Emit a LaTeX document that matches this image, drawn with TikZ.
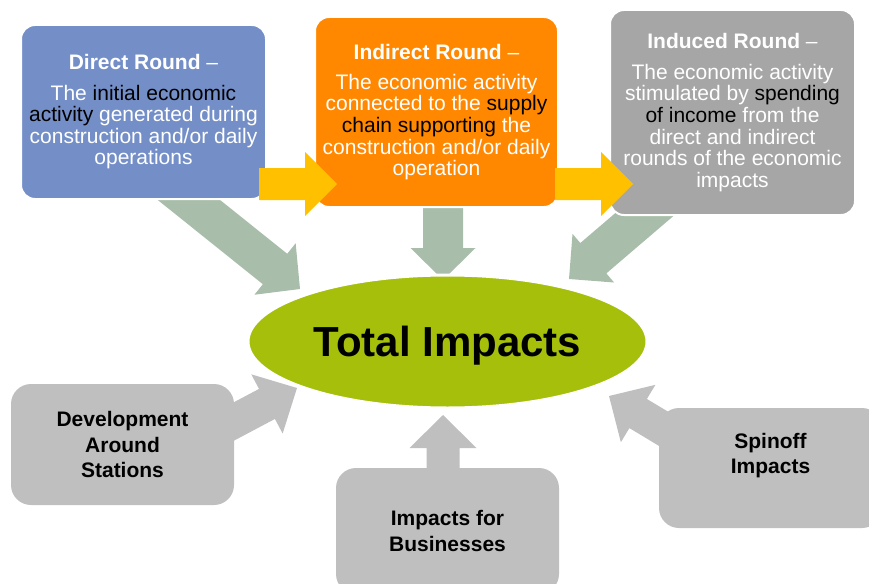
\documentclass[tikz,border=0pt]{standalone}
\usepackage{fontspec}
\setmainfont{Liberation Sans}
\usetikzlibrary{calc,shapes.geometric}
\definecolor{dirblue}{RGB}{116,143,199}
\definecolor{indorange}{RGB}{255,136,0}
\definecolor{indgray}{RGB}{166,166,166}
\definecolor{lowgray}{RGB}{191,191,191}
\definecolor{sage}{RGB}{169,190,170}
\definecolor{amber}{RGB}{255,192,0}
\definecolor{lime}{RGB}{165,191,10}
% block arrow: #1 style, #2 tail, #3 tip, #4 half shaft, #5 half head, #6 head length
\newcommand\blockarr[6]{%
  \coordinate (hb) at ($(#3)!#6!(#2)$);
  \fill[#1] ($(#2)!#4!90:(#3)$) -- ($(hb)!#4!90:(#3)$) -- ($(hb)!#5!90:(#3)$) -- (#3)
    -- ($(hb)!#5!-90:(#3)$) -- ($(hb)!#4!-90:(#3)$) -- ($(#2)!#4!-90:(#3)$) -- cycle;}
\begin{document}
\begin{tikzpicture}[x=1pt,y=-1pt,
  topbox/.style={rectangle, rounded corners=14pt, draw=white, line width=2pt,
    align=center, text=white, inner sep=0pt, font=\fontsize{21}{21.6}\selectfont},
  lowbox/.style={rectangle, rounded corners=20pt, fill=lowgray, inner sep=0pt,
    align=center, font=\fontsize{21}{25.5}\selectfont\bfseries},
  lowtext/.style={inner sep=0pt, align=center, font=\fontsize{21}{25.5}\selectfont\bfseries},
  greenarrow/.style={fill=sage},
  yellowarrow/.style={fill=amber},
  grayarrow/.style={fill=lowgray}]
\useasboundingbox (0,0) rectangle (869,583);
\clip (0,0) rectangle (869,583);

% arrow end points
\coordinate (g1s) at (144,164);  \coordinate (g1e) at (300,289);
\coordinate (g2s) at (443,130);  \coordinate (g2e) at (443,280);
\coordinate (g3s) at (721,149);  \coordinate (g3e) at (569,279);
\coordinate (y1s) at (259,184);  \coordinate (y1e) at (337,184);
\coordinate (y2s) at (555,184);  \coordinate (y2e) at (633,184);
\coordinate (b1s) at (165,458);  \coordinate (b1e) at (297,388);
\coordinate (b2s) at (443,520);  \coordinate (b2e) at (443,415);
\coordinate (b3s) at (737,473);  \coordinate (b3e) at (609,396);

% arrows into the total (behind the top boxes)
\blockarr{greenarrow}{g1s}{g1e}{19.5pt}{33pt}{32pt}
\blockarr{greenarrow}{g2s}{g2e}{20pt}{32.5pt}{32pt}
\blockarr{greenarrow}{g3s}{g3e}{20pt}{32pt}{32pt}

% top boxes
\node[topbox, fill=dirblue, minimum width=245pt, minimum height=174pt] (direct) at (143.5,112)
  {\textbf{Direct Round} –\\[8.7pt]The \textcolor{black}{initial economic}\\\textcolor{black}{activity} generated during\\construction and/or daily\\operations};
\node[topbox, fill=indorange, minimum width=243pt, minimum height=190pt] (indirect) at (436.5,112)
  {\textbf{Indirect Round} –\\[8.7pt]The economic activity\\connected to the \textcolor{black}{supply}\\\textcolor{black}{chain supporting} the\\construction and/or daily\\operation};
\node[topbox, fill=indgray, minimum width=245pt, minimum height=205pt] (induced) at (732.5,112.5)
  {\textbf{Induced Round} –\\[9pt]The economic activity\\stimulated by \textcolor{black}{spending}\\\textcolor{black}{of income} from the\\direct and indirect\\rounds of the economic\\impacts};

% yellow arrows between rounds
\blockarr{yellowarrow}{y1s}{y1e}{16pt}{32pt}{32pt}
\blockarr{yellowarrow}{y2s}{y2e}{16pt}{32pt}{32pt}

% arrows from bottom boxes (behind the box texts)
\blockarr{grayarrow}{b1s}{b1e}{17pt}{33.5pt}{34pt}
\blockarr{grayarrow}{b2s}{b2e}{16.5pt}{33.5pt}{33pt}
\blockarr{grayarrow}{b3s}{b3e}{17pt}{33.5pt}{34pt}

% bottom boxes
\node[lowbox, minimum width=223pt, minimum height=121pt] (dev) at (122.5,444.5)
  {Development\\Around\\Stations};
\node[lowbox, minimum width=223pt, minimum height=126pt] (bus) at (447.5,531)
  {Impacts for\\Businesses};
\node[lowbox, minimum width=223pt, minimum height=120pt] (spin) at (770.5,468) {};
\node[lowtext] (spintext) at (770.5,455.4) {Spinoff\\Impacts};

% total
\node[ellipse, fill=lime, draw=white, line width=3pt, minimum width=399pt, minimum height=133pt, inner sep=0pt] (total) at (447.5,341.5) {};
\node[anchor=base, inner sep=0pt, font=\fontsize{42}{42}\selectfont\bfseries] (totaltext) at (447.5,356) {Total Impacts};
\end{tikzpicture}
\end{document}
